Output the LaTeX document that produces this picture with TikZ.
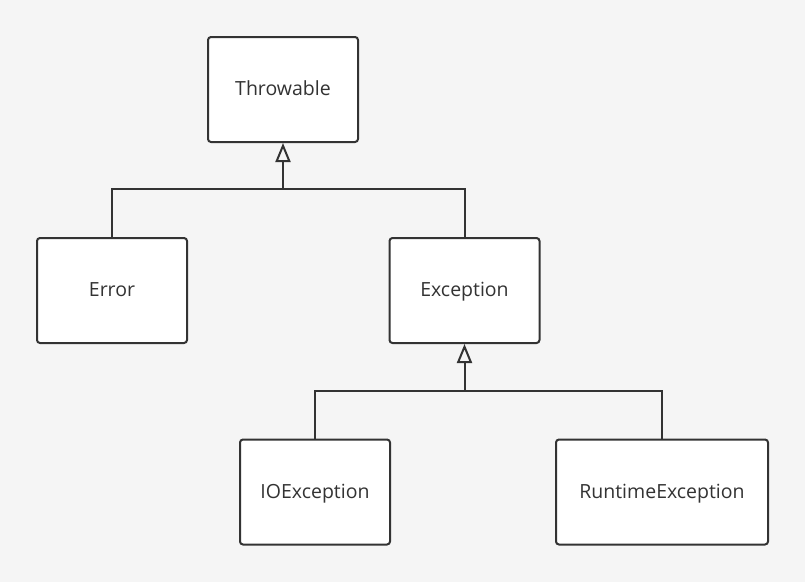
\documentclass[tikz,border=0pt]{standalone}
\usepackage{fontspec}
\setmainfont{Open Sans}
\usetikzlibrary{arrows.meta, positioning}
\definecolor{bg}{HTML}{F5F5F5}
\definecolor{ln}{HTML}{333333}
\begin{document}
\begin{tikzpicture}[x=1pt,y=-1pt,
		cls/.style={draw=ln,fill=white,line width=2pt,rounded corners=3pt,minimum width=150pt,minimum height=105pt,text height=12pt,text depth=0pt,font=\fontsize{19.5}{22}\selectfont,text=ln},
		inh/.style={draw=ln,line width=2pt,-{Triangle[open,width=15pt,length=19pt]}}
		]
		\fill[bg] (0,0) rectangle (805,582);
		\useasboundingbox (0,0) rectangle (805,582);
		\node (thr) [cls] at (283,89.5) {Throwable};
		\node (err) [cls] at (112,290.5) {Error};
		\node (exc) [cls] at (464.5,290.5) {Exception};
		\node (ioe) [cls] at (315,492) {IOException};
		\node (rte) [cls,minimum width=212pt] at (662,492) {RuntimeException};
		\coordinate (j1) at (283,189);
		\coordinate (j2) at (464.5,391);
		\draw [ln,line width=2pt] (err.north) |- (j1) -| (exc.north);
		\draw [inh] (j1) -- (thr.south);
		\draw [ln,line width=2pt] (ioe.north) |- (j2) -| (rte.north);
		\draw [inh] (j2) -- (exc.south);
	\end{tikzpicture}
\end{document}
